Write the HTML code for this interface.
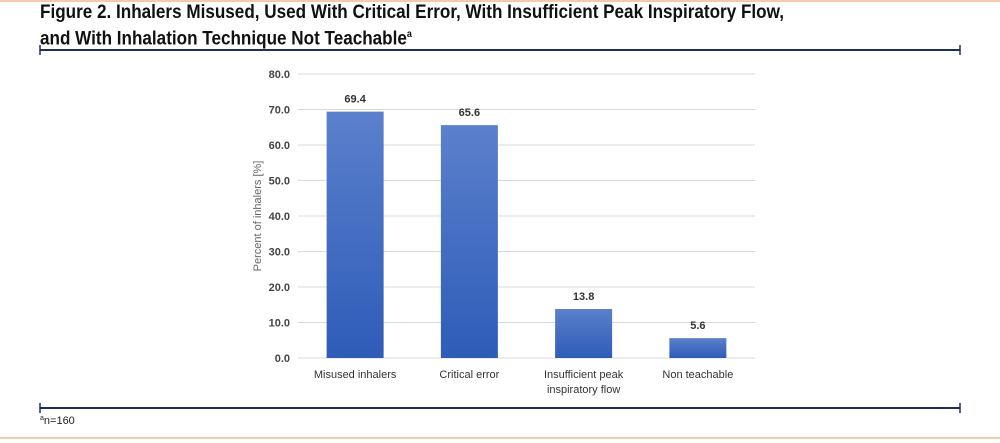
<!DOCTYPE html>
<html><head><meta charset="utf-8"><style>
html,body{margin:0;padding:0;background:#fff;}
body{width:1000px;height:443px;position:relative;overflow:hidden;font-family:"Liberation Sans",sans-serif;}
.title{position:absolute;left:40px;top:2px;font-weight:bold;font-size:19px;line-height:22px;color:#111;transform:scaleX(0.9);transform-origin:0 0;white-space:nowrap;}
svg{position:absolute;left:0;top:0;}
</style></head><body>
<div style="position:absolute;left:0;top:0;width:1000px;height:2px;background:#f9c7ab"></div>
<div style="position:absolute;left:0;top:437px;width:1000px;height:2px;background:#f9c7ab"></div>
<div class="title">Figure 2. Inhalers Misused, Used With Critical Error, With Insufficient Peak Inspiratory Flow,<br>and With Inhalation Technique Not Teachable<sup style="font-size:10px">a</sup></div>
<svg id="chart" width="1000" height="443">
<defs><linearGradient id="bg" x1="0" y1="0" x2="0" y2="1"><stop offset="0" stop-color="#5b80cc"/><stop offset="1" stop-color="#2e5cb8"/></linearGradient></defs>
<g><line x1="40" y1="50" x2="960" y2="50" stroke="#1f2f5a" stroke-width="2"/><line x1="40" y1="45" x2="40" y2="55" stroke="#1f2f5a" stroke-width="1.5"/><line x1="960" y1="45" x2="960" y2="55" stroke="#1f2f5a" stroke-width="1.5"/></g>
<g><line x1="40" y1="408" x2="960" y2="408" stroke="#1f2f5a" stroke-width="2"/><line x1="40" y1="403" x2="40" y2="413" stroke="#1f2f5a" stroke-width="1.5"/><line x1="960" y1="403" x2="960" y2="413" stroke="#1f2f5a" stroke-width="1.5"/></g>
<text x="40" y="424" font-size="11" fill="#222" font-family="Liberation Sans,sans-serif"><tspan font-size="7" dy="-4">a</tspan><tspan dy="4">n=160</tspan></text>
<text transform="translate(261,216) rotate(-90)" text-anchor="middle" font-size="11" fill="#666">Percent of inhalers [%]</text>
<g id="grid"></g><g id="bars"></g>
</svg>
<script>
const categories=[["Misused inhalers"],["Critical error"],["Insufficient peak","inspiratory flow"],["Non teachable"]];
const values=[69.4,65.6,13.8,5.6];
const ticks=[0,10,20,30,40,50,60,70,80];
const left=298,right=755,y0=358,y80=74,ns="http://www.w3.org/2000/svg";
const y=v=>y0-(v/80)*(y0-y80);
const bw=(right-left)/categories.length;
const x=i=>left+bw*(i+0.5);
const grid=document.getElementById('grid'),bars=document.getElementById('bars');
function mk(tag,attrs,parent){const e=document.createElementNS(ns,tag);for(const k in attrs)e.setAttribute(k,attrs[k]);parent.appendChild(e);return e;}
ticks.forEach(t=>{
 const l=mk('line',{x1:left,x2:right,y1:y(t),y2:y(t),stroke:'#d9d9d9','stroke-width':1},grid);
 
 
 const tx=mk('text',{x:290,y:y(t)+4,'text-anchor':'end','font-size':11,'font-weight':'bold',fill:'#444'},grid);
 tx.textContent=t.toFixed(1);
 
 
});
values.forEach((v,i)=>{
 const r=mk('rect',{x:x(i)-28.5,y:y(v),width:57,height:y0-y(v),fill:'url(#bg)'},bars);
 
 
 const lb=mk('text',{x:x(i),y:y(v)-9,'text-anchor':'middle','font-size':11,'font-weight':'bold',fill:'#333'},bars);
 lb.textContent=v.toFixed(1);
 
 
 categories[i].forEach((s,j)=>{
  const c=mk('text',{x:x(i),y:378+j*15,'text-anchor':'middle','font-size':11,fill:'#333'},bars);
  c.textContent=s;
  
  
 });
});
</script>
</body></html>
